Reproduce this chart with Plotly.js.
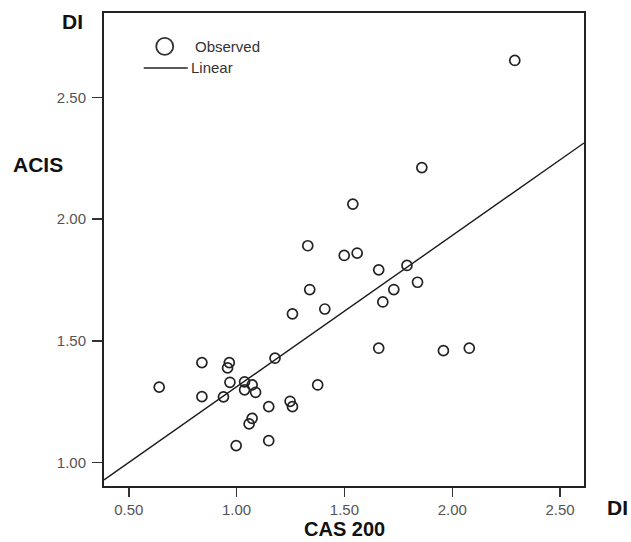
<!DOCTYPE html>
<html>
<head>
<meta charset="utf-8">
<script src="https://cdn.plot.ly/plotly-3.0.1.min.js"></script>
<style>html,body{margin:0;padding:0;background:#fff;}#chart{width:631px;height:542px;}</style>
</head>
<body>
<div id="chart"></div>
<script>
const casDI = [0.641, 0.839, 0.966, 0.958, 0.969, 0.839, 0.939, 1.037, 1.072, 1.037,
  1.088, 1.178, 1.149, 1.248, 1.259, 1.072, 1.058, 1.149, 0.998, 1.539,
  1.330, 1.499, 1.559, 1.659, 1.790, 1.839, 1.729, 1.678, 1.339, 1.259,
  1.409, 1.659, 1.859, 1.959, 2.079, 2.290, 1.376];
const acisDI = [1.310, 1.411, 1.411, 1.389, 1.330, 1.271, 1.270, 1.332, 1.319, 1.299,
  1.289, 1.429, 1.230, 1.252, 1.230, 1.182, 1.159, 1.090, 1.070, 2.062,
  1.891, 1.851, 1.861, 1.792, 1.810, 1.741, 1.711, 1.660, 1.711, 1.611,
  1.631, 1.470, 2.212, 1.460, 1.470, 2.652, 1.319];
// Linear fit line, end points
const linearX = [0.385, 2.611];
const linearY = [0.929, 2.313];
// Tick labels
const xTicks = [0.5, 1.0, 1.5, 2.0, 2.5];
const xTickText = ['0.50', '1.00', '1.50', '2.00', '2.50'];
const yTicks = [1.0, 1.5, 2.0, 2.5];
const yTickText = ['1.00', '1.50', '2.00', '2.50'];

const FONT = 'Arial, "Liberation Sans", Helvetica, sans-serif';

const traces = [
  {
    x: linearX, y: linearY, type: 'scatter', mode: 'lines', name: 'Linear',
    line: {color: '#1a1a1a', width: 1.4}, showlegend: false, hoverinfo: 'skip'
  },
  {
    x: casDI, y: acisDI, type: 'scatter', mode: 'markers', name: 'Observed',
    marker: {symbol: 'circle-open', size: 10, color: '#222', line: {width: 1.7, color: '#222'}},
    showlegend: false
  }
];

const layout = {
  width: 631, height: 542,
  margin: {l: 104, r: 47, t: 13, b: 56, pad: 0},
  paper_bgcolor: '#fff', plot_bgcolor: '#fff',
  font: {family: FONT, color: '#444', size: 15},
  showlegend: false,
  xaxis: {
    range: [0.385, 2.611], showgrid: false, zeroline: false,
    showline: true, linecolor: '#222', linewidth: 2, mirror: true,
    ticks: 'outside', ticklen: 9, tickwidth: 1.5, tickcolor: '#333',
    tickvals: xTicks, ticktext: xTickText, ticklabelstandoff: 0,
    tickfont: {family: FONT, size: 15, color: '#555'},
    title: {text: ''}
  },
  yaxis: {
    range: [0.904, 2.847], showgrid: false, zeroline: false,
    showline: true, linecolor: '#222', linewidth: 2, mirror: true,
    ticks: 'outside', ticklen: 10, tickwidth: 1.5, tickcolor: '#333',
    tickvals: yTicks, ticktext: yTickText, ticklabelstandoff: 3,
    tickfont: {family: FONT, size: 15, color: '#555'},
    title: {text: ''}
  },
  shapes: [
    {type: 'circle', xref: 'paper', yref: 'paper', xsizemode: 'pixel', ysizemode: 'pixel',
     xanchor: 0.1265, yanchor: 0.9293, x0: -8.5, x1: 8.5, y0: -8.5, y1: 8.5,
     line: {color: '#333', width: 1.8}},
    {type: 'line', xref: 'paper', yref: 'paper', xsizemode: 'pixel', ysizemode: 'pixel',
     xanchor: 0.0828, yanchor: 0.8837, x0: 0, x1: 44, y0: 0, y1: 0,
     line: {color: '#222', width: 1.4}}
  ],
  annotations: [
    {text: '<b>DI</b>', xref: 'paper', yref: 'paper', x: -0.0663, y: 0.9816, xanchor: 'center', yanchor: 'middle',
     showarrow: false, font: {family: FONT, size: 21, color: '#111'}},
    {text: '<b>ACIS</b>', xref: 'paper', yref: 'paper', x: -0.137, y: 0.680, xanchor: 'center', yanchor: 'middle',
     showarrow: false, font: {family: FONT, size: 21, color: '#111'}},
    {text: '<b>DI</b>', xref: 'paper', yref: 'paper', x: 1.0688, y: -0.0465, xanchor: 'center', yanchor: 'middle',
     showarrow: false, font: {family: FONT, size: 21, color: '#111'}},
    {text: '<b>CAS 200</b>', xref: 'paper', yref: 'paper', x: 0.5018, y: -0.091, xanchor: 'center', yanchor: 'middle',
     showarrow: false, font: {family: FONT, size: 20, color: '#111'}, borderpad: 0},
    {text: 'Observed', xref: 'paper', yref: 'paper', x: 0.187, y: 0.9302, xanchor: 'left', yanchor: 'middle',
     showarrow: false, font: {family: FONT, size: 15, color: '#333'}, borderpad: 0},
    {text: 'Linear', xref: 'paper', yref: 'paper', x: 0.1787, y: 0.8853, xanchor: 'left', yanchor: 'middle',
     showarrow: false, font: {family: FONT, size: 15, color: '#333'}, borderpad: 0}
  ]
};

Plotly.newPlot('chart', traces, layout, {displayModeBar: false, staticPlot: true});
</script>
</body>
</html>
